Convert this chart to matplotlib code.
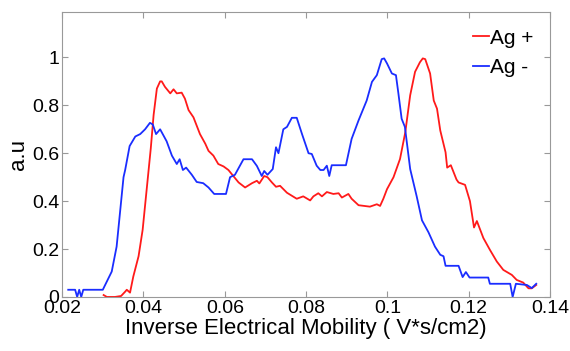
import numpy as np
import matplotlib
matplotlib.use('Agg')
import matplotlib.pyplot as plt

plt.rcParams['font.family'] = ['Liberation Sans', 'DejaVu Sans']

# Ag + (red)
x_pos = [0.0302, 0.0310, 0.0330, 0.0345, 0.0355, 0.0359, 0.0367, 0.0375, 0.0388,
         0.0398, 0.0408, 0.0418, 0.0425, 0.0433, 0.0441, 0.0445, 0.0453, 0.0466,
         0.0474, 0.0482, 0.0494, 0.0502, 0.0511, 0.0523, 0.0539, 0.0552, 0.0560,
         0.0572, 0.0584, 0.0597, 0.0609, 0.0621, 0.0634, 0.0650, 0.0667, 0.0679,
         0.0685, 0.0697, 0.0705, 0.0716, 0.0726, 0.0736, 0.0753, 0.0777, 0.0793,
         0.0810, 0.0818, 0.0830, 0.0839, 0.0851, 0.0867, 0.0880, 0.0888, 0.0904,
         0.0912, 0.0929, 0.0957, 0.0974, 0.0982, 0.0990, 0.0999, 0.1015, 0.1031,
         0.1044, 0.1056, 0.1068, 0.1080, 0.1087, 0.1093, 0.1105, 0.1114, 0.1122,
         0.1130, 0.1143, 0.1147, 0.1156, 0.1170, 0.1175, 0.1191, 0.1203, 0.1213,
         0.1220, 0.1236, 0.1252, 0.1269, 0.1285, 0.1306, 0.1318, 0.1334, 0.1347,
         0.1355, 0.1366]
y_pos = [0.008, 0.0, 0.0, 0.004, 0.022, 0.030, 0.018, 0.085, 0.170,
         0.280, 0.450, 0.620, 0.760, 0.870, 0.900, 0.900, 0.877, 0.850,
         0.867, 0.850, 0.853, 0.828, 0.780, 0.750, 0.680, 0.640, 0.610,
         0.590, 0.555, 0.545, 0.530, 0.505, 0.478, 0.457, 0.475, 0.485,
         0.474, 0.505, 0.500, 0.478, 0.460, 0.464, 0.435, 0.410, 0.420,
         0.403, 0.420, 0.433, 0.420, 0.438, 0.430, 0.433, 0.415, 0.430,
         0.410, 0.383, 0.377, 0.387, 0.380, 0.410, 0.450, 0.500, 0.576,
         0.688, 0.842, 0.940, 0.980, 0.996, 0.993, 0.933, 0.820, 0.786,
         0.695, 0.604, 0.540, 0.550, 0.490, 0.478, 0.468, 0.400, 0.290,
         0.317, 0.246, 0.197, 0.148, 0.113, 0.092, 0.071, 0.060, 0.036,
         0.036, 0.050]

# Ag - (blue)
x_neg = [0.0215, 0.0232, 0.0237, 0.0242, 0.0247, 0.0252, 0.0300, 0.0322, 0.0334,
         0.0351, 0.0355, 0.0366, 0.0380, 0.0392, 0.0404, 0.0416, 0.0423, 0.0431,
         0.0441, 0.0457, 0.0470, 0.0482, 0.0489, 0.0497, 0.0505, 0.0519, 0.0531,
         0.0547, 0.0560, 0.0574, 0.0603, 0.0613, 0.0625, 0.0646, 0.0667, 0.0679,
         0.0691, 0.0697, 0.0705, 0.0718, 0.0726, 0.0732, 0.0744, 0.0753, 0.0765,
         0.0777, 0.0790, 0.0806, 0.0814, 0.0826, 0.0835, 0.0843, 0.0851, 0.0857,
         0.0863, 0.0898, 0.0912, 0.0929, 0.0949, 0.0962, 0.0974, 0.0986, 0.0992,
         0.0999, 0.1011, 0.1021, 0.1027, 0.1035, 0.1043, 0.1056, 0.1072, 0.1085,
         0.1101, 0.1117, 0.1130, 0.1138, 0.1143, 0.1175, 0.1185, 0.1193, 0.1202,
         0.1248, 0.1252, 0.1302, 0.1308, 0.1316, 0.1343, 0.1355, 0.1366]
y_neg = [0.030, 0.030, 0.000, 0.030, 0.000, 0.030, 0.030, 0.106, 0.210,
         0.500, 0.530, 0.630, 0.670, 0.680, 0.700, 0.727, 0.720, 0.680,
         0.700, 0.650, 0.590, 0.555, 0.575, 0.530, 0.540, 0.510, 0.480,
         0.475, 0.457, 0.430, 0.430, 0.500, 0.510, 0.575, 0.575, 0.547,
         0.505, 0.526, 0.510, 0.534, 0.625, 0.600, 0.700, 0.710, 0.748,
         0.748, 0.680, 0.600, 0.597, 0.548, 0.530, 0.530, 0.548, 0.505,
         0.550, 0.550, 0.660, 0.737, 0.820, 0.898, 0.926, 0.993, 0.996,
         0.975, 0.933, 0.926, 0.850, 0.744, 0.710, 0.534, 0.420, 0.320,
         0.270, 0.210, 0.176, 0.170, 0.130, 0.130, 0.083, 0.104, 0.081,
         0.081, 0.055, 0.055, 0.000, 0.055, 0.050, 0.037, 0.055]

fig = plt.figure(figsize=(5.7, 3.51), dpi=100)
ax = fig.add_axes([0.109, 0.154, 0.856, 0.812])

ax.plot(x_pos, y_pos, color='#ff1a1a', lw=1.3, label='Ag +')
ax.plot(x_neg, y_neg, color='#1a2dff', lw=1.3, label='Ag -')

ax.set_xlim(0.02, 0.14)
ax.set_ylim(0, 1.19)
ax.set_xticks(np.arange(0.02, 0.141, 0.02))
ax.set_xticklabels(['0.02', '0.04', '0.06', '0.08', '0.1', '0.12', '0.14'])
ax.set_yticks([0, 0.2, 0.4, 0.6, 0.8, 1])
ax.set_yticklabels(['0', '0.2', '0.4', '0.6', '0.8', '1'])
ax.tick_params(direction='in', top=True, right=True, length=4, color='#999999',
               labelsize=14, pad=2)
for s in ax.spines.values():
    s.set_color('#999999')

ax.set_xlabel('Inverse Electrical Mobility ( V*s/cm2)', fontsize=16, labelpad=1)
ax.set_ylabel('a.u', fontsize=16, labelpad=2)

ax.legend(loc='upper right', frameon=False, fontsize=15, handlelength=0.75,
          handletextpad=0.05, labelspacing=0.5, borderaxespad=0.4)

fig.savefig('out.png', dpi=100)
